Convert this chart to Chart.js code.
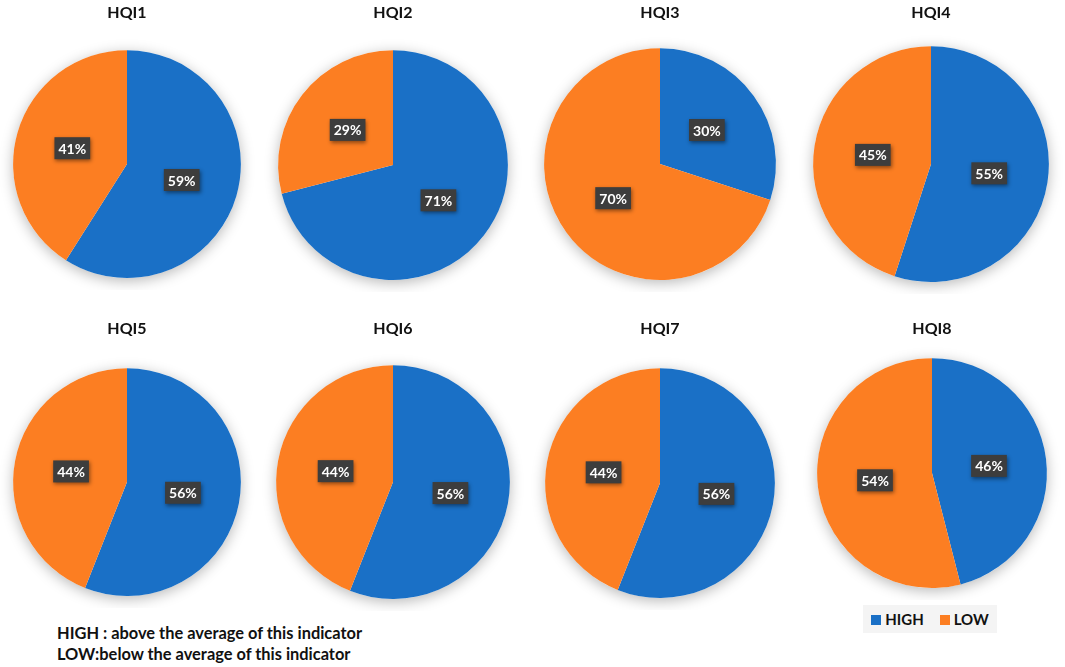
<!DOCTYPE html>
<html>
<head>
<meta charset="utf-8">
<title>HQI pies</title>
<script src="https://cdn.jsdelivr.net/npm/chart.js@4.4.1/dist/chart.umd.min.js"></script>
<style>
    body { margin: 0; background: #fff; }
    #page { position: relative; width: 1065px; height: 667px; overflow: hidden; font-family: Lato, "Open Sans", sans-serif; }
    .pie { position: absolute; width: 266px; }
    #legend { position: absolute; left: 863px; top: 605px; width: 134px; height: 28px; background: #f4f4f4;
              display: flex; align-items: center; justify-content: center; gap: 16px; font-weight: bold; font-size: 15px; color: #111; }
    #legend span.sw { display: inline-block; width: 10px; height: 10px; margin-right: 4px; }
    #note { position: absolute; left: 57px; top: 622px; font-weight: bold; font-size: 16.4px; line-height: 21px; color: #111; }
</style>
</head>
<body>
<div id="page">
    <div id="legend">
        <div><span class="sw" style="background:#1a70c6"></span>HIGH</div>
        <div><span class="sw" style="background:#fc7e22"></span>LOW</div>
    </div>
    <div id="note">
        HIGH : above the average of this indicator<br>
        LOW:below the average of this indicator
    </div>
</div>

<script>
// data
const categories = ['HIGH', 'LOW'];
const indicators = ['HQI1', 'HQI2', 'HQI3', 'HQI4', 'HQI5', 'HQI6', 'HQI7', 'HQI8'];
const highShare = [59, 71, 30, 55, 56, 56, 56, 46];
const lowShare = [41, 29, 70, 45, 44, 44, 44, 54];

const sliceColors = ['#1a70c6', '#fc7e22'];

// where each pie sits on the page (centre, radius, title line)
const pieLayout = [
    { cx: 127, cy: 164, r: 114, titleY: 13 },
    { cx: 393, cy: 165, r: 115, titleY: 13 },
    { cx: 660, cy: 164, r: 116, titleY: 13 },
    { cx: 931, cy: 164, r: 118, titleY: 13 },
    { cx: 127, cy: 482, r: 114, titleY: 329 },
    { cx: 393, cy: 482, r: 117, titleY: 329 },
    { cx: 660, cy: 483, r: 115, titleY: 329 },
    { cx: 932, cy: 473, r: 115, titleY: 329 }
];

// soft drop shadow under the whole pie
const pieShadow = {
    id: 'pieShadow',
    beforeDatasetsDraw(chart) {
        const arc = chart.getDatasetMeta(0).data[0];
        if (!arc) return;
        const ctx = chart.ctx;
        ctx.save();
        ctx.shadowColor = 'rgba(0,0,0,0.28)';
        ctx.shadowBlur = 14;
        ctx.shadowOffsetY = 3;
        ctx.fillStyle = '#fff';
        ctx.beginPath();
        ctx.arc(arc.x, arc.y, arc.outerRadius, 0, Math.PI * 2);
        ctx.fill();
        ctx.restore();
    }
};

// dark boxed percent labels
const boxLabels = {
    id: 'boxLabels',
    afterDatasetsDraw(chart) {
        const ctx = chart.ctx;
        const values = chart.data.datasets[0].data;
        chart.getDatasetMeta(0).data.forEach(function(el, i) {
            const pos = el.tooltipPosition();
            const text = values[i] + '%';
            ctx.save();
            ctx.font = 'bold 14px Lato, "Open Sans", sans-serif';
            const w = ctx.measureText(text).width + 8;
            const h = 22;
            ctx.shadowColor = 'rgba(0,0,0,0.45)';
            ctx.shadowBlur = 4;
            ctx.shadowOffsetX = 1;
            ctx.shadowOffsetY = 2;
            ctx.fillStyle = '#3d3d3d';
            ctx.fillRect(pos.x - w / 2, pos.y - h / 2, w, h);
            ctx.shadowColor = 'transparent';
            ctx.fillStyle = '#fff';
            ctx.textAlign = 'center';
            ctx.textBaseline = 'middle';
            ctx.fillText(text, pos.x, pos.y + 1);
            ctx.restore();
        });
    }
};

const page = document.getElementById('page');

indicators.forEach(function(name, i) {
    const lay = pieLayout[i];
    const top = lay.titleY - 14;
    const padBottom = (lay.cy - lay.r) - top - 23;
    const height = (lay.cy - lay.r - top) + 2 * lay.r + 12;

    const box = document.createElement('div');
    box.className = 'pie';
    box.style.left = (lay.cx - 133) + 'px';
    box.style.top = top + 'px';
    box.style.height = height + 'px';
    const canvas = document.createElement('canvas');
    box.appendChild(canvas);
    page.appendChild(box);

    new Chart(canvas, {
        type: 'pie',
        data: {
            labels: categories,
            datasets: [{
                data: [highShare[i], lowShare[i]],
                backgroundColor: sliceColors,
                borderWidth: 0,
                hoverOffset: 0
            }]
        },
        options: {
            responsive: true,
            maintainAspectRatio: false,
            animation: false,
            events: [],
            layout: { padding: { top: 0, bottom: 12, left: 0, right: 0 } },
            plugins: {
                legend: { display: false },
                tooltip: { enabled: false },
                title: {
                    display: true,
                    text: name,
                    color: '#111',
                    font: { family: 'Lato', size: 16, weight: 'bold', lineHeight: 1.2 },
                    padding: { top: 4, bottom: padBottom }
                }
            }
        },
        plugins: [pieShadow, boxLabels]
    });
});
</script>
</body>
</html>
